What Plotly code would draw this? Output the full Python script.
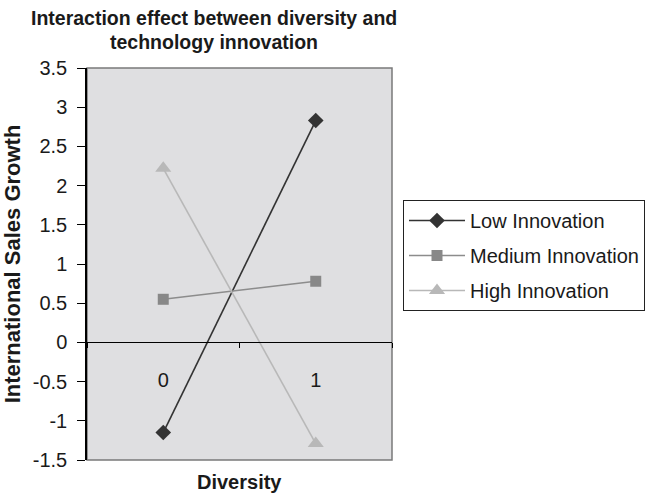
import plotly.graph_objects as go

# Diversity levels on the category axis
diversity = ["0", "1"]

# International sales growth for each innovation level
low_innovation = [-1.15, 2.83]
medium_innovation = [0.55, 0.78]
high_innovation = [2.22, -1.29]

y_ticks = [-1.5, -1, -0.5, 0, 0.5, 1, 1.5, 2, 2.5, 3, 3.5]
y_tick_text = ["-1.5", "-1", "-0.5", "0", "0.5", "1", "1.5", "2", "2.5", "3", "3.5"]

title_lines = ["Interaction effect between diversity and", "technology innovation"]

FONT = "Liberation Sans, Arial, sans-serif"
TXT = "#1a1a1a"

fig = go.Figure()
fig.add_trace(go.Scatter(
    x=diversity, y=low_innovation, name="Low Innovation", mode="lines+markers",
    legendgroup="low",
    line=dict(color="#333333", width=1.6),
    marker=dict(symbol="diamond", size=12, color="#333333"),
))
fig.add_trace(go.Scatter(
    x=diversity, y=medium_innovation, name="Medium Innovation", mode="lines+markers",
    legendgroup="medium",
    line=dict(color="#8c8c8c", width=1.6),
    marker=dict(symbol="square", size=11, color="#888888"),
))
fig.add_trace(go.Scatter(
    x=diversity, y=high_innovation, name="High Innovation", mode="lines+markers",
    legendgroup="high",
    line=dict(color="#b8b8b8", width=1.6),
    marker=dict(symbol="triangle-up", size=14, color="#b8b8b8"),
))

# Plot frame
fig.add_shape(type="rect", xref="paper", yref="paper", x0=0, x1=1, y0=0, y1=1,
              line=dict(color="#7a7a7a", width=1.5), layer="below")

fig.update_layout(
    width=645, height=497,
    margin=dict(l=87, r=253, t=68, b=37, autoexpand=False),
    paper_bgcolor="white",
    plot_bgcolor="#dfdfe1",
    font=dict(family=FONT, size=20, color=TXT),
    showlegend=True,
    legend=dict(
        x=(403 - 87) / 305, xanchor="left", y=(460 - 200) / 392, yanchor="top",
        bordercolor="#222222", borderwidth=1, bgcolor="white",
        font=dict(size=20, family=FONT, color=TXT),
        tracegroupgap=6, itemwidth=56,
    ),
    xaxis=dict(
        type="category", range=[-0.5, 1.5],
        anchor="free", position=0.3, automargin=False,
        showline=True, linecolor="black", linewidth=1,
        ticks="outside", tickson="boundaries", ticklen=5, tickcolor="black",
        showgrid=False, zeroline=False,
        ticklabelstandoff=20,
        tickfont=dict(size=20, family=FONT, color=TXT),
        fixedrange=True,
    ),
    yaxis=dict(
        range=[-1.5, 3.5], tickvals=y_ticks, ticktext=y_tick_text,
        automargin=False,
        showline=True, linecolor="black", linewidth=1.5,
        ticks="outside", ticklen=8, tickcolor="black",
        ticklabelstandoff=6,
        showgrid=False, zeroline=False,
        tickfont=dict(size=20, family=FONT, color=TXT),
        title=dict(text="<b>International Sales Growth</b>", standoff=6,
                   font=dict(size=22, family=FONT, color=TXT)),
    ),
)

# Two-line chart title
for text, ypix in zip(title_lines, [18, 42]):
    fig.add_annotation(
        text=f"<b>{text}</b>", xref="paper", yref="paper",
        x=(214 - 87) / 305, y=(460 - ypix) / 392,
        xanchor="center", yanchor="middle", showarrow=False,
        font=dict(size=19.5, family=FONT, color=TXT),
    )

# X axis title sits below the plot frame
fig.add_annotation(
    text="<b>Diversity</b>", xref="paper", yref="paper", x=0.5, y=(460 - 482) / 392,
    xanchor="center", yanchor="middle", showarrow=False,
    font=dict(size=20, family=FONT, color=TXT),
)

fig.write_html("out.html")
